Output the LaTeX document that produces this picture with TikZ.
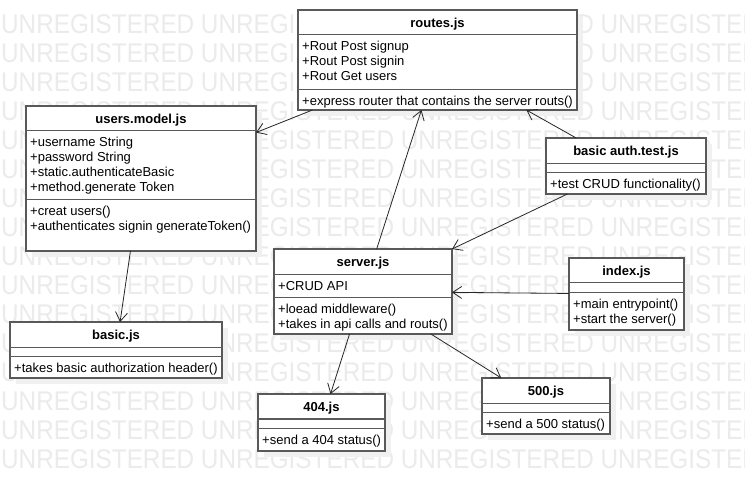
\documentclass[tikz,border=0pt]{standalone}
\usepackage{fontspec}
\setmainfont{Liberation Sans}
\usetikzlibrary{arrows.meta, shadows}

\tikzset{
  markText/.style={anchor=base west, inner sep=0pt, text=black!8, font=\fontsize{27}{29}\selectfont},
  classBox/.style={rectangle, draw=black!65, line width=1.2pt, fill=white, inner sep=0pt, outer sep=0pt,
    drop shadow={fill=black!6, opacity=1, shadow xshift=6pt, shadow yshift=-6pt}},
  sepLine/.style={draw=black!65, line width=1.2pt},
  titleText/.style={anchor=base, inner sep=0pt, font=\fontsize{13}{15}\selectfont\bfseries},
  memberText/.style={anchor=base west, inner sep=0pt, font=\fontsize{13}{15}\selectfont},
  assocLine/.style={draw=black!85, line width=0.8pt, -{Straight Barb[length=9pt, width=12pt]}}
}

\newcommand{\markRow}{\scalebox{0.9}[1]{UNREGISTERED UNREGISTERED UNREGISTERED UNREGISTERED}}

\begin{document}
\begin{tikzpicture}[x=1pt, y=-1pt]
\useasboundingbox[fill=white] (0,0) rectangle (745,491);

% watermark rows
\node[markText] (mark1) at (1, 33.5) {\markRow};
\node[markText] (mark2) at (1, 62.5) {\markRow};
\node[markText] (mark3) at (1, 91.5) {\markRow};
\node[markText] (mark4) at (1, 120.5) {\markRow};
\node[markText] (mark5) at (1, 149.5) {\markRow};
\node[markText] (mark6) at (1, 178.5) {\markRow};
\node[markText] (mark7) at (1, 207.5) {\markRow};
\node[markText] (mark8) at (1, 236.5) {\markRow};
\node[markText] (mark9) at (1, 265.5) {\markRow};
\node[markText] (mark10) at (1, 294.5) {\markRow};
\node[markText] (mark11) at (1, 323.5) {\markRow};
\node[markText] (mark12) at (1, 352.5) {\markRow};
\node[markText] (mark13) at (1, 381.5) {\markRow};
\node[markText] (mark14) at (1, 410.5) {\markRow};
\node[markText] (mark15) at (1, 439.5) {\markRow};
\node[markText] (mark16) at (1, 468.5) {\markRow};

% routes.js
\node[classBox, minimum width=279pt, minimum height=100pt] (routesBox) at (437.5, 60) {};
\draw[sepLine] (298,34.5) -- (577,34.5);
\draw[sepLine] (298,89.5) -- (577,89.5);
\node[titleText] (routesTitle) at (437.5, 27) {routes.js};
\node[memberText] (routesA1) at (302, 50.5) {+Rout Post signup};
\node[memberText] (routesA2) at (302, 65.5) {+Rout Post signin};
\node[memberText] (routesA3) at (302, 80.5) {+Rout Get users};
\node[memberText] (routesM1) at (302, 105.5) {+express router that contains the server routs()};

% users.model.js
\node[classBox, minimum width=230pt, minimum height=145pt] (usersModel) at (141, 178.5) {};
\draw[sepLine] (26,130.5) -- (256,130.5);
\draw[sepLine] (26,199.5) -- (256,199.5);
\node[titleText] (usersTitle) at (141, 123) {users.model.js};
\node[memberText] (usersA1) at (30, 146.5) {+username String};
\node[memberText] (usersA2) at (30, 161.5) {+password String};
\node[memberText] (usersA3) at (30, 176.5) {+static.authenticateBasic};
\node[memberText] (usersA4) at (30, 191.5) {+method.generate Token};
\node[memberText] (usersM1) at (30, 215.5) {+creat users()};
\node[memberText] (usersM2) at (30, 230.5) {+authenticates signin generateToken()};

% basic auth.test.js
\node[classBox, minimum width=160pt, minimum height=56pt] (authTest) at (626, 166) {};
\draw[sepLine] (546,163.5) -- (706,163.5);
\draw[sepLine] (546,172.5) -- (706,172.5);
\node[titleText] (authTitle) at (626, 155) {basic auth.test.js};
\node[memberText] (authM1) at (550, 188.5) {+test CRUD functionality()};

% server.js
\node[classBox, minimum width=178pt, minimum height=85pt] (serverBox) at (363, 291.5) {};
\draw[sepLine] (274,274.5) -- (452,274.5);
\draw[sepLine] (274,297.5) -- (452,297.5);
\node[titleText] (serverTitle) at (363, 266) {server.js};
\node[memberText] (serverA1) at (278, 290.5) {+CRUD API};
\node[memberText] (serverM1) at (278, 313.5) {+loead middleware()};
\node[memberText] (serverM2) at (278, 328.5) {+takes in api calls and routs()};

% index.js
\node[classBox, minimum width=115pt, minimum height=72pt] (indexBox) at (626.5, 294) {};
\draw[sepLine] (569,282.5) -- (684,282.5);
\draw[sepLine] (569,292.5) -- (684,292.5);
\node[titleText] (indexTitle) at (626.5, 275) {index.js};
\node[memberText] (indexM1) at (573, 308.5) {+main entrypoint()};
\node[memberText] (indexM2) at (573, 323.5) {+start the server()};

% basic.js
\node[classBox, minimum width=212pt, minimum height=56pt] (basicBox) at (116, 350) {};
\draw[sepLine] (10,347.5) -- (222,347.5);
\draw[sepLine] (10,356.5) -- (222,356.5);
\node[titleText] (basicTitle) at (116, 339) {basic.js};
\node[memberText] (basicM1) at (14, 372.5) {+takes basic authorization header()};

% 404.js
\node[classBox, minimum width=127pt, minimum height=57pt] (status404) at (321.5, 422.5) {};
\draw[sepLine] (258,419) -- (385,419);
\draw[sepLine] (258,428.5) -- (385,428.5);
\node[titleText] (title404) at (321.5, 411) {404.js};
\node[memberText] (send404) at (262, 444.5) {+send a 404 status()};

% 500.js
\node[classBox, minimum width=128pt, minimum height=56pt] (status500) at (546, 406) {};
\draw[sepLine] (482,403.5) -- (610,403.5);
\draw[sepLine] (482,412.5) -- (610,412.5);
\node[titleText] (title500) at (546, 395) {500.js};
\node[memberText] (send500) at (486, 428.5) {+send a 500 status()};

% connectors
\draw[assocLine] (routesBox) -- (usersModel);
\draw[assocLine] (serverBox) -- (routesBox);
\draw[assocLine] (authTest) -- (routesBox);
\draw[assocLine] (authTest) -- (serverBox);
\draw[assocLine] (indexBox) -- (serverBox);
\draw[assocLine] (usersModel) -- (basicBox);
\draw[assocLine] (serverBox) -- (status404);
\draw[assocLine] (serverBox) -- (status500);

\end{tikzpicture}
\end{document}
